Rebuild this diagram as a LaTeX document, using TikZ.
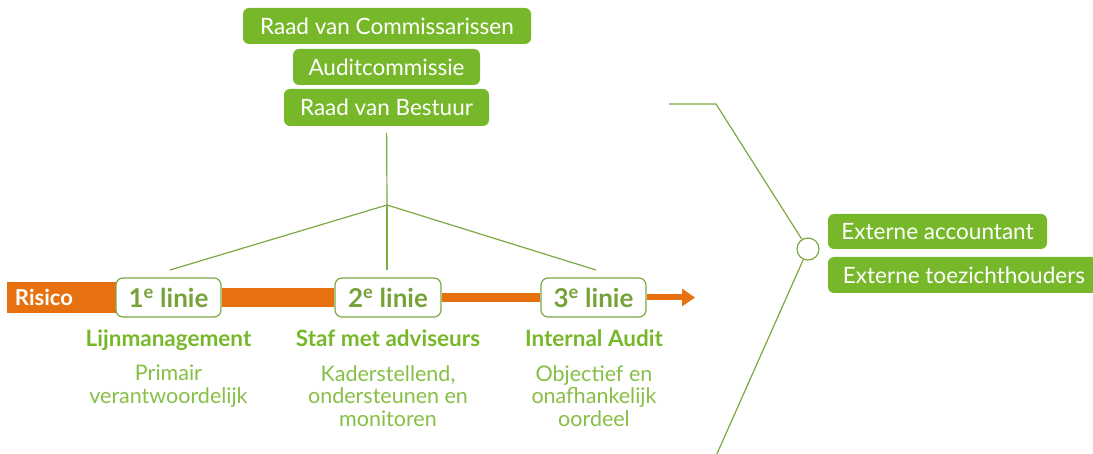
\documentclass[tikz,border=0pt]{standalone}
\usepackage{fontspec}
\setmainfont{Lato}
\usetikzlibrary{arrows.meta,positioning,backgrounds}
\definecolor{leaf}{HTML}{77B82A}
\definecolor{stem}{HTML}{7DA843}
\definecolor{moss}{HTML}{76A23A}
\definecolor{sprout}{HTML}{86BF45}
\definecolor{risk}{HTML}{E8710F}
\tikzset{
  board/.style={
    fill=leaf,
    text=white,
    rounded corners=6pt,
    inner sep=0pt,
    minimum height=36pt,
    font=\fontsize{22.5}{26}\selectfont
  },
  line box/.style={
    draw=stem,
    line width=1.2pt,
    fill=white,
    rounded corners=7pt,
    minimum width=105pt,
    minimum height=39pt,
    inner sep=0pt,
    text=moss,
    font=\bfseries\fontsize{26}{30}\selectfont
  },
  risk label/.style={
    fill=risk,
    text=white,
    font=\bfseries\fontsize{22}{26}\selectfont,
    text width=102pt,
    align=left,
    inner xsep=8pt,
    inner ysep=0pt,
    minimum height=31pt
  },
  role/.style={text=leaf,inner sep=0pt,anchor=base,font=\bfseries\fontsize{22.5}{26}\selectfont},
  duty/.style={text=sprout,inner sep=0pt,align=center,font=\fontsize{21.5}{22.5}\selectfont},
  tree/.style={draw=stem,line width=1.2pt},
  ring/.style={circle,draw=stem,line width=1.2pt,fill=white,minimum size=22pt,inner sep=0pt}
}

\begin{document}
\begin{tikzpicture}[x=1pt,y=-1pt]
  \useasboundingbox (0,0) rectangle (1093,454);
  \node[board,minimum width=288pt] (rvc) at (387,26) {Raad van Commissarissen};
  \node[board,minimum width=187pt] (ac)  at (386.5,67) {Auditcommissie};
  \node[board,minimum width=205pt,minimum height=37pt] (rvb) at (386.5,107.5) {Raad van Bestuur};

  \node[risk label] (risico) at (66,297.5) {Risico};
  \node[line box] (l1) at (168.5,297.5) {1\textsuperscript{e} linie};
  \node[line box,minimum width=106pt] (l2) at (388,297.5) {2\textsuperscript{e} linie};
  \node[line box] (l3) at (593.5,297.5) {3\textsuperscript{e} linie};

  \begin{scope}[on background layer]
    \draw[risk,line width=19pt] (l1) -- (l2);
    \draw[risk,line width=9pt] (l2) -- (l3);
  \end{scope}
  \coordinate (tip) at (695,297.5);
  \draw[risk,line width=6pt,-{Triangle[length=13pt,width=17pt]}] (l3) -- (tip);

  \coordinate (split) at (387,205);
  \coordinate (f1) at (170,270);
  \coordinate (f2) at (387,270);
  \coordinate (f3) at (596,270);
  \draw[tree,shorten <=7pt] (rvb) -- (split);
  \foreach \f in {f1,f2,f3}
    \draw[tree] (split) -- (\f);

  \node[role] (t1) at (168.5,347) {Lijnmanagement};
  \node[role] (t2) at (388,347) {Staf met adviseurs};
  \node[role] (t3) at (594,347) {Internal Audit};
  \node[duty,below=18pt of t1.base] (d1) {Primair\\verantwoordelijk};
  \node[duty,below=18pt of t2.base] (d2) {Kaderstellend,\\ondersteunen en\\monitoren};
  \node[duty,below=18pt of t3.base] (d3) {Objectief en\\onafhankelijk\\oordeel};

  % externe partijen
  \coordinate (tail) at (669,104);
  \coordinate (knee) at (716,104);
  \coordinate (foot) at (716,456);
  \node[ring] (hub) at (808,249) {};
  \draw[tree] (tail) -- (knee) -- (hub);
  \draw[tree] (hub) -- (foot);
  \node[board,minimum width=219pt,minimum height=35pt] (ea) at (937.5,231.5) {Externe accountant};
  \node[board,minimum width=272pt] (et) at (964,275) {Externe toezichthouders};
\end{tikzpicture}
\end{document}
